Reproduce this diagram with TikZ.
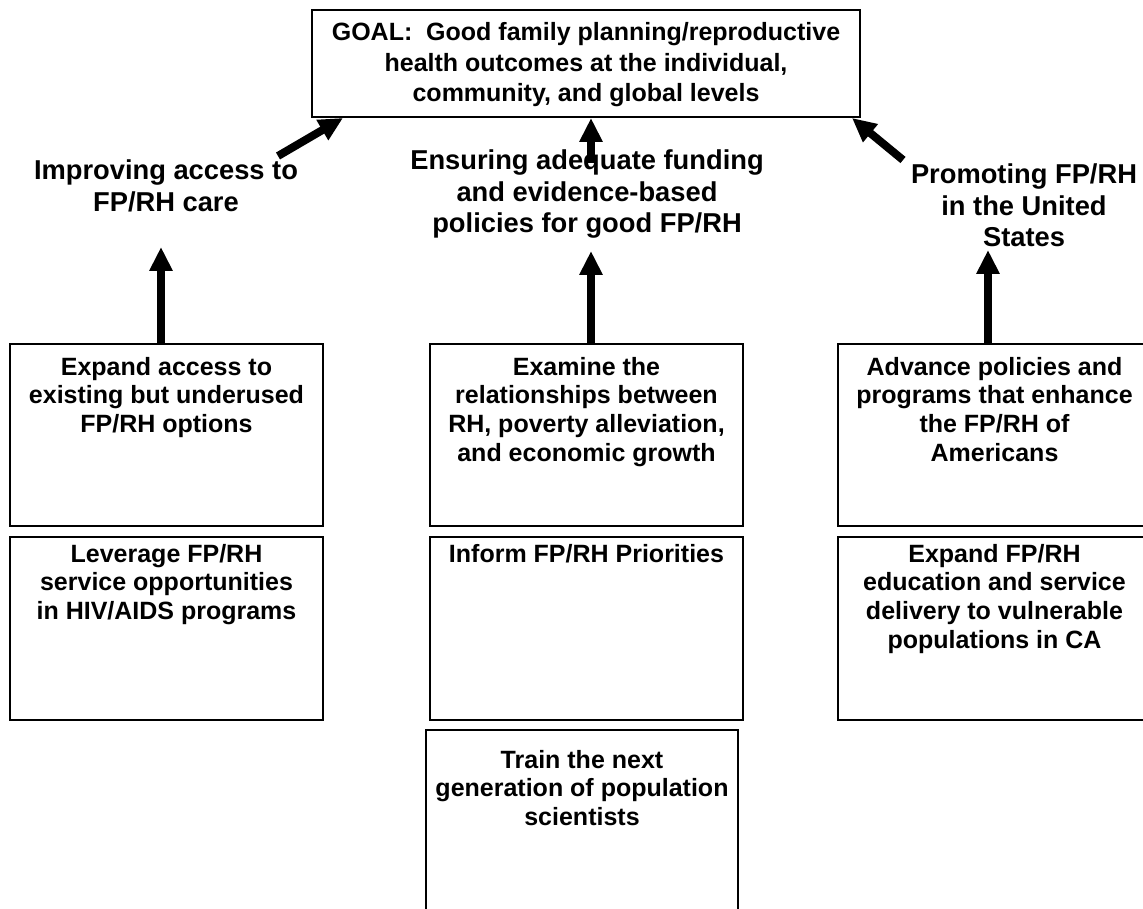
\documentclass[tikz,border=0pt]{standalone}
\usepackage{fontspec}
\setmainfont{Liberation Sans}
\usetikzlibrary{arrows.meta}

% box body: width, height, first baseline, text
\newcommand{\cellbody}[4]{\parbox[t][#2][t]{#1}{\centering\rule{0pt}{#3}#4}}

\tikzset{
  plan box/.style={draw, line width=2pt, anchor=north west, inner sep=0pt,
    font=\bfseries\fontsize{25}{28.7}\selectfont},
  theme/.style={anchor=north, align=center, inner sep=0pt,
    font=\bfseries\fontsize{27.3}{31.5}\selectfont},
  push/.style={line width=8pt, -{Triangle[width=22pt,length=24pt]}},
}

\begin{document}
\begin{tikzpicture}[x=1pt,y=-1pt]
\useasboundingbox (0,0) rectangle (1143,909);
\clip (0,0) rectangle (1143,909);

% goal
\node[plan box, font=\bfseries\fontsize{25}{30.5}\selectfont] (goal) at (311,9)
  {\cellbody{548pt}{107pt}{31pt}{GOAL:\ \ Good family planning/reproductive\\health outcomes at the individual,\\community, and global levels}};

% themes
\node[theme] (improve) at (166,160) {Improving access to\\FP/RH care};
\node[theme] (ensure) at (587,150) {Ensuring adequate funding\\and evidence-based\\policies for good FP/RH};
\node[theme] (promote) at (1024,164) {Promoting FP/RH\\in the United\\States};

% upper row
\node[plan box] (expand) at (9,343)
  {\cellbody{313pt}{182pt}{31pt}{Expand access to\\existing but underused\\FP/RH options}};
\node[plan box] (examine) at (429,343)
  {\cellbody{313pt}{182pt}{31pt}{Examine the\\relationships between\\RH, poverty alleviation,\\and economic growth}};
\node[plan box] (advance) at (837,343)
  {\cellbody{313pt}{182pt}{31pt}{Advance policies and\\programs that enhance\\the FP/RH of\\Americans}};

% lower row
\node[plan box] (leverage) at (9,536)
  {\cellbody{313pt}{183pt}{25pt}{Leverage FP/RH\\service opportunities\\in HIV/AIDS programs}};
\node[plan box] (inform) at (429,536)
  {\cellbody{313pt}{183pt}{25pt}{Inform FP/RH Priorities}};
\node[plan box] (reach) at (837,536)
  {\cellbody{313pt}{183pt}{25pt}{Expand FP/RH\\education and service\\delivery to vulnerable\\populations in CA}};
\node[plan box] (train) at (425,729)
  {\cellbody{312pt}{200pt}{38pt}{Train the next\\generation of population\\scientists}};

% arrow ends
\coordinate (improve tip) at (161,247);
\coordinate (ensure tip) at (591,251);
\coordinate (promote tip) at (988,250);
\coordinate (improve tail) at (278,156);
\coordinate (ensure tail) at (591,163);
\coordinate (promote tail) at (903,160);

\draw[push] (expand.north -| improve tip) -- (improve tip);
\draw[push] (examine.north -| ensure tip) -- (ensure tip);
\draw[push] (advance.north -| promote tip) -- (promote tip);

\draw[push] (improve tail) -- ([xshift=32pt]goal.south west);
\draw[push] (ensure tail) -- (goal.south -| ensure tail);
\draw[push] (promote tail) -- ([xshift=-9pt]goal.south east);

\end{tikzpicture}
\end{document}
